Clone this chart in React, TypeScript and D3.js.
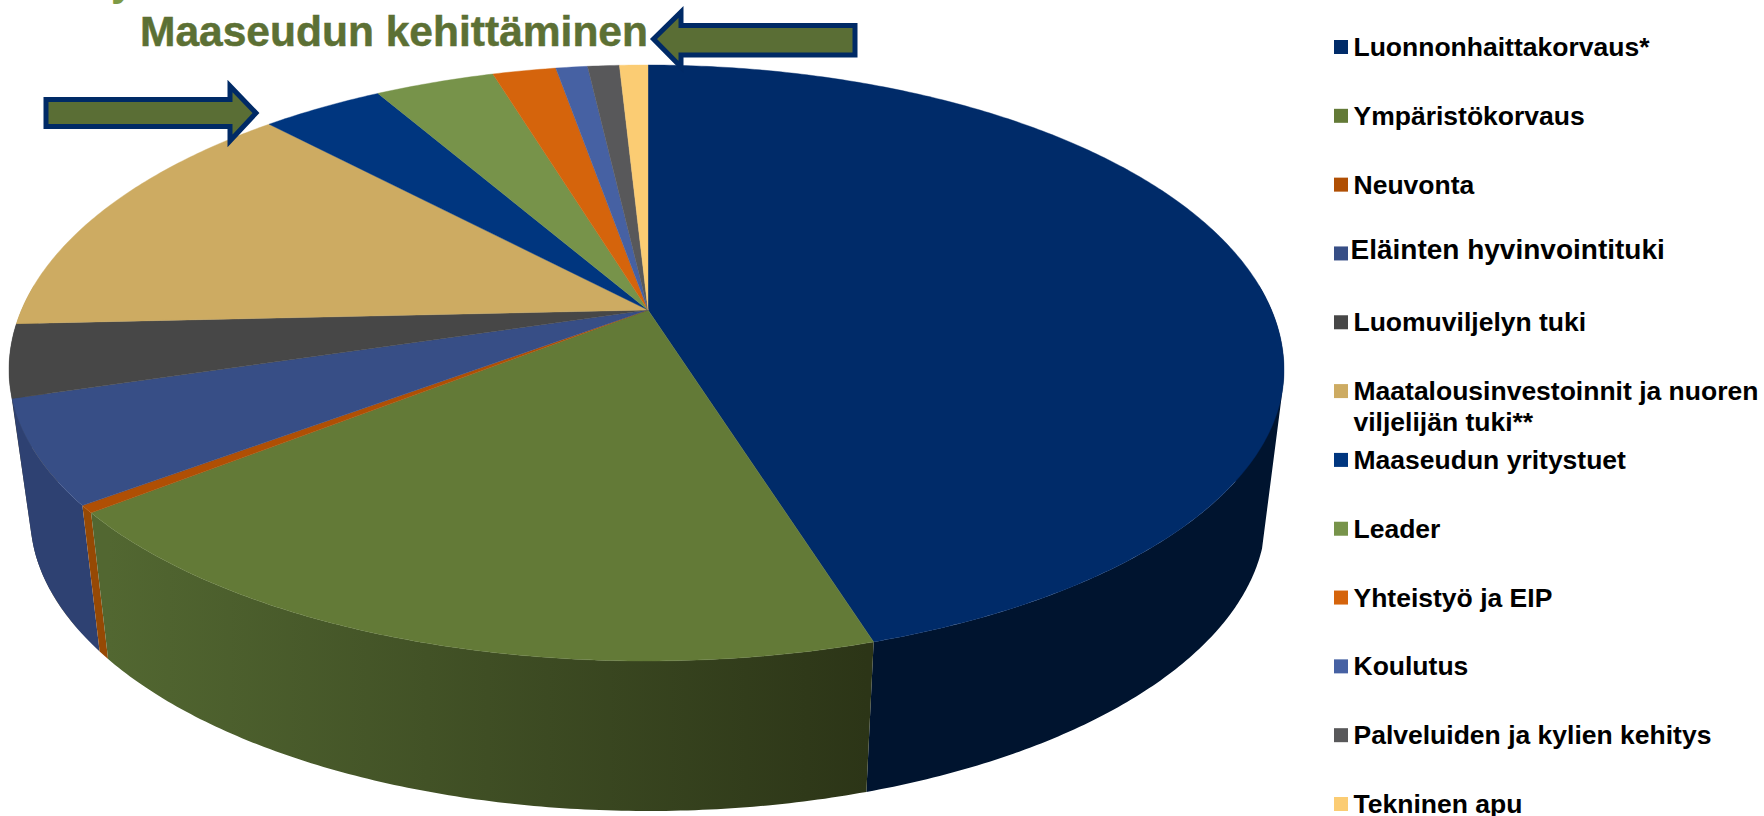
import React from "react";
import * as d3 from "d3";

const categories = [
  "Luonnonhaittakorvaus*",
  "Ympäristökorvaus",
  "Neuvonta",
  "Eläinten hyvinvointituki",
  "Luomuviljelyn tuki",
  "Maatalousinvestoinnit ja nuoren|viljelijän tuki**",
  "Maaseudun yritystuet",
  "Leader",
  "Yhteistyö ja EIP",
  "Koulutus",
  "Palveluiden ja kylien kehitys",
  "Tekninen apu",
];
const values = [45.2, 19.1, 0.4, 5.6, 3.95, 13.8, 3.7, 3.6, 1.9, 0.95, 0.95, 0.85];
const topColors = ["#002b69", "#637a37", "#b04f04", "#374e86", "#474747", "#cdab62", "#00367f", "#77934a", "#d5640c", "#4661a3", "#58585a", "#fbcc73"];
const legendColors = topColors;
const wallStart = ["#00142f", "#526731", "#964904", "#2e4172", "#3c3c3c", "#ae9153", "#002e6c", "#65803f", "#b5550a", "#3c5289", "#4b4b4d", "#d5ad62"];
const wallEnd = ["#00142f", "#2c3517", "#964904", "#2e4172", "#3c3c3c", "#ae9153", "#002e6c", "#65803f", "#b5550a", "#3c5289", "#4b4b4d", "#d5ad62"];
const title = "Maaseudun kehittäminen";

const W = 1764, H = 816;
// pie apex and the foreshortening of its radius directions
const cx = 648, cy = 310, A = 627, B = 286.9;
// rim of the top face: two half ellipses
const ex = 646.5, ey = 370, rx = 637.5, ryUp = 305, ryDown = 291;
// rim of the bottom face and the point the vertical edges converge to
const bx = 648, by = 515, brx = 618, bry = 296, vpx = 648, vpy = 5300;

type P = [number, number];

// far crossing of the ray p + t d with an axis-aligned ellipse
const crossing = (p: P, d: P, c: P, a: number, b: number): number => {
  const ux = (p[0] - c[0]) / a, uy = (p[1] - c[1]) / b;
  const vx = d[0] / a, vy = d[1] / b;
  const qa = vx * vx + vy * vy, qb = 2 * (ux * vx + uy * vy), qc = ux * ux + uy * uy - 1;
  const disc = Math.max(0, qb * qb - 4 * qa * qc);
  return (-qb + Math.sqrt(disc)) / (2 * qa);
};

const topPt = (t: number): P => {
  const d: P = [A * Math.sin(t), -B * Math.cos(t)];
  const up = crossing([cx, cy], d, [ex, ey], rx, ryUp);
  const yUp = cy + up * d[1];
  const s = yUp <= ey ? up : crossing([cx, cy], d, [ex, ey], rx, ryDown);
  return [cx + s * d[0], cy + s * d[1]];
};
const botPt = (t: number): P => {
  const p = topPt(t);
  const d: P = [vpx - p[0], vpy - p[1]];
  const s = crossing(p, d, [bx, by], brx, bry);
  // a ray that misses the bottom rim is pulled back onto it
  const ux = (p[0] + s * d[0] - bx) / brx, uy = (p[1] + s * d[1] - by) / bry;
  const n = Math.max(1, Math.hypot(ux, uy));
  return [bx + (ux / n) * brx, by + (uy / n) * bry];
};
const samples = (a: number, b: number) => {
  const n = Math.max(2, Math.ceil((b - a) / 0.01));
  return d3.range(n + 1).map((i) => a + ((b - a) * i) / n);
};

const line = d3.line();
const pie = d3.pie<number>().sort(null)(values);

const legendY = d3.scaleLinear().domain([0, 11]).range([47, 804]);

const arrowR = line([[46, 99.5], [230, 99.5], [230, 86], [256, 113], [230, 141], [230, 126.5], [46, 126.5]]) + "Z";
const arrowL = line([[855, 25.5], [681, 25.5], [681, 12], [653.5, 39], [681, 67], [681, 55], [855, 55]]) + "Z";

// a wall as one path of small quads, each a hull so that all wind the same way
const wallPath = (a: number, b: number) => {
  const ts = samples(a, b);
  return d3.pairs(ts)
    .map(([t0, t1]) => line(d3.polygonHull([topPt(t0), topPt(t1), botPt(t1), botPt(t0)]) as P[]) + "Z")
    .join("");
};

export default function App() {
  // walls: only slices reaching the front half, drawn from the back towards the front
  const walls = pie
    .map((s, i) => ({ i, a: Math.max(s.startAngle, (85 * Math.PI) / 180), b: Math.min(s.endAngle, (275 * Math.PI) / 180) }))
    .filter((w) => w.b > w.a)
    .sort((p, q) => Math.cos((q.a + q.b) / 2) - Math.cos((p.a + p.b) / 2));
  return (
    <svg width={W} height={H} viewBox={`0 0 ${W} ${H}`} style={{ position: "fixed", left: 0, top: 0, background: "#fff" }} fontFamily="'Liberation Sans', Arial, sans-serif">
      <defs>
        {walls.map(({ i, a, b }) => (
          <linearGradient key={i} id={`wall${i}`} gradientUnits="userSpaceOnUse" x1={Math.min(botPt(a)[0], botPt(b)[0])} x2={Math.max(botPt(a)[0], botPt(b)[0]) + 1} y1={0} y2={0}>
            <stop offset="0" stopColor={wallStart[i]} />
            <stop offset="1" stopColor={wallEnd[i]} />
          </linearGradient>
        ))}
      </defs>
      <text x={111} y={-5} fontSize={42} fontWeight="bold" fill="#7d9a45">y</text>
      {walls.map(({ i, a, b }) => (
        <path key={i} d={wallPath(a, b)} fill={`url(#wall${i})`} />
      ))}
      {pie.map((s, i) => {
        const d = line([[cx, cy], ...samples(s.startAngle, s.endAngle).map(topPt)]) + "Z";
        return <path key={i} d={d} fill={topColors[i]} stroke={topColors[i]} strokeWidth={0.4} />;
      })}
      <text x={140} y={46} fontSize={43} fontWeight="bold" fill="#5c7034" stroke="#5c7034" strokeWidth={0.5} textLength={508} lengthAdjust="spacingAndGlyphs">{title}</text>
      <path d={arrowR} fill="#5a6e35" stroke="#002a66" strokeWidth={5} strokeMiterlimit={10} />
      <path d={arrowL} fill="#5a6e35" stroke="#002a66" strokeWidth={5} strokeMiterlimit={10} />
      {categories.map((c, i) => {
        const y = legendY(i);
        const lines = c.split("|");
        const off = i === 3 ? -3.5 : 0;
        const tx = i === 3 ? 1350.5 : 1353.5;
        return (
          <g key={c}>
            <rect x={1334} y={y - 7} width={14} height={14} fill={legendColors[i]} />
            {lines.map((l, j) => (
              <text key={l} x={tx} y={y + off + 9 + j * 31} fontSize={i === 3 ? 28 : 26.5} fontWeight="bold" fill="#000">{l}</text>
            ))}
          </g>
        );
      })}
    </svg>
  );
}
